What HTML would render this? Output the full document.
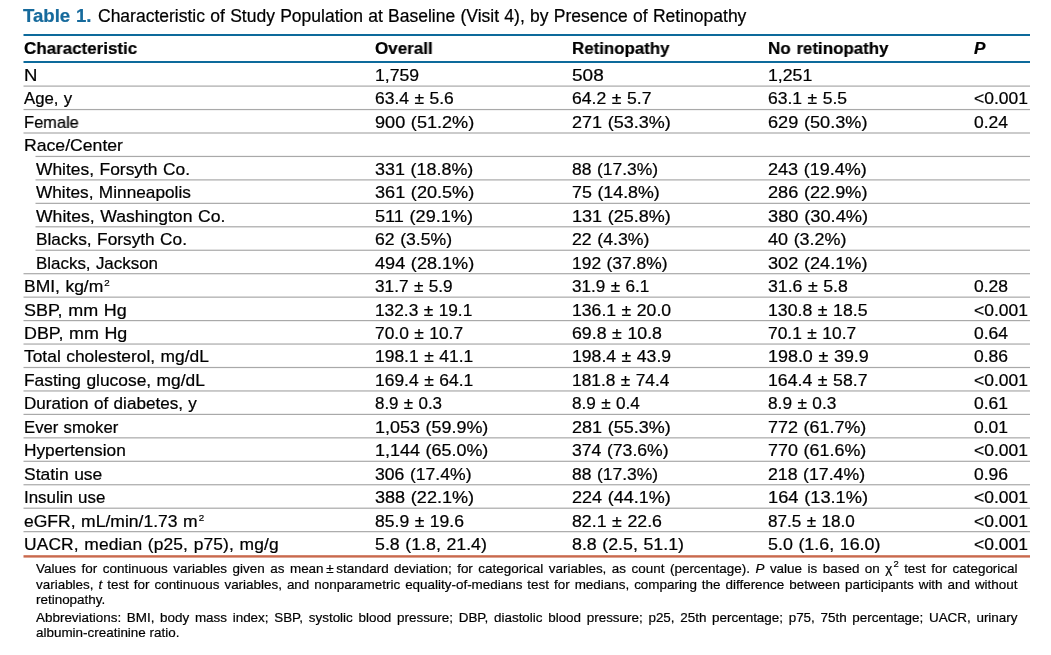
<!DOCTYPE html>
<html><head><meta charset="utf-8"><title>Table 1</title>
<style>
html,body{margin:0;padding:0;background:#fff;}
body{width:1051px;height:655px;position:relative;overflow:hidden;font-family:"Liberation Sans",sans-serif;color:#000;}
.t{position:absolute;white-space:nowrap;will-change:transform;-webkit-text-stroke-width:0.22px;font-size:16.6px;line-height:20.0px;word-spacing:0.6px;}
.t.r{transform:scaleX(1.054);transform-origin:0 0;}
.t.h,.tl{will-change:transform;}
.t.h{font-weight:bold;font-size:17.2px;word-spacing:1.2px;color:#000;}
.tb{color:#166a9c;font-weight:bold;}
sup{font-size:0.56em;vertical-align:0;position:relative;top:-0.66em;margin-left:1px;}
.ln{position:absolute;left:0;top:0;}
.fl{position:absolute;will-change:transform;-webkit-text-stroke-width:0.2px;left:36.3px;width:981.5px;font-size:13.45px;line-height:16.0px;white-space:nowrap;color:#000;}
.fl.j{text-align:justify;text-align-last:justify;white-space:nowrap;}
.fl sup{font-size:0.7em;top:-0.6em;}
</style></head><body>
<svg class="ln" width="1051" height="655" viewBox="0 0 1051 655"><rect x="23.5" y="34" width="1006.5" height="2" fill="#0d6a9b"/><rect x="23.5" y="61" width="1006.5" height="2" fill="#0d6a9b"/><rect x="23.5" y="85.50" width="1006.5" height="1.2" fill="#a9a9a9"/><rect x="23.5" y="108.95" width="1006.5" height="1.2" fill="#a9a9a9"/><rect x="23.5" y="132.40" width="1006.5" height="1.2" fill="#a9a9a9"/><rect x="35.5" y="155.85" width="994.5" height="1.2" fill="#a9a9a9"/><rect x="35.5" y="179.30" width="994.5" height="1.2" fill="#a9a9a9"/><rect x="35.5" y="202.75" width="994.5" height="1.2" fill="#a9a9a9"/><rect x="35.5" y="226.20" width="994.5" height="1.2" fill="#a9a9a9"/><rect x="35.5" y="249.65" width="994.5" height="1.2" fill="#a9a9a9"/><rect x="23.5" y="273.10" width="1006.5" height="1.2" fill="#a9a9a9"/><rect x="23.5" y="296.55" width="1006.5" height="1.2" fill="#a9a9a9"/><rect x="23.5" y="320.00" width="1006.5" height="1.2" fill="#a9a9a9"/><rect x="23.5" y="343.45" width="1006.5" height="1.2" fill="#a9a9a9"/><rect x="23.5" y="366.90" width="1006.5" height="1.2" fill="#a9a9a9"/><rect x="23.5" y="390.35" width="1006.5" height="1.2" fill="#a9a9a9"/><rect x="23.5" y="413.80" width="1006.5" height="1.2" fill="#a9a9a9"/><rect x="23.5" y="437.25" width="1006.5" height="1.2" fill="#a9a9a9"/><rect x="23.5" y="460.70" width="1006.5" height="1.2" fill="#a9a9a9"/><rect x="23.5" y="484.15" width="1006.5" height="1.2" fill="#a9a9a9"/><rect x="23.5" y="507.60" width="1006.5" height="1.2" fill="#a9a9a9"/><rect x="23.5" y="531.05" width="1006.5" height="1.2" fill="#a9a9a9"/><rect x="23.5" y="555.2" width="1006.5" height="2.4" fill="#c9694c"/></svg>
<div class="t " style="left:23.30px;top:6.00px;font-size:18.6px;"><b class="tb">Table 1.</b></div>
<div class="t " style="left:98.00px;top:6.00px;font-size:17.5px;word-spacing:0.43px;">Characteristic of Study Population at Baseline (Visit 4), by Presence of Retinopathy</div>
<div class="t h" style="left:23.50px;top:38.00px;transform:scaleX(0.9877);transform-origin:0 0;">Characteristic</div>
<div class="t h" style="left:374.60px;top:38.00px;transform:scaleX(0.9895);transform-origin:0 0;">Overall</div>
<div class="t h" style="left:572.00px;top:38.00px;transform:scaleX(0.9818);transform-origin:0 0;">Retinopathy</div>
<div class="t h" style="left:767.70px;top:38.00px;transform:scaleX(0.9830);transform-origin:0 0;">No retinopathy</div>
<div class="t h" style="left:973.60px;top:38.00px;transform:scaleX(1.0000);transform-origin:0 0;"><i>P</i></div>
<div class="t r" style="left:23.70px;top:66.00px;transform:scaleX(1.1193);">N</div>
<div class="t r" style="left:374.60px;top:66.00px;transform:scaleX(1.0613);">1,759</div>
<div class="t r" style="left:572.00px;top:66.00px;transform:scaleX(1.1449);">508</div>
<div class="t r" style="left:767.70px;top:66.00px;transform:scaleX(1.0662);">1,251</div>
<div class="t r" style="left:23.70px;top:89.00px;transform:scaleX(1.0100);">Age, y</div>
<div class="t r" style="left:374.60px;top:89.00px;transform:scaleX(1.0527);">63.4 ± 5.6</div>
<div class="t r" style="left:572.00px;top:89.00px;transform:scaleX(1.0608);">64.2 ± 5.7</div>
<div class="t r" style="left:767.70px;top:89.00px;transform:scaleX(1.0553);">63.1 ± 5.5</div>
<div class="t r" style="left:973.60px;top:89.00px;transform:scaleX(1.0540);">&lt;0.001</div>
<div class="t r" style="left:23.70px;top:113.00px;transform:scaleX(0.9907);">Female</div>
<div class="t r" style="left:374.60px;top:113.00px;transform:scaleX(1.0905);">900 (51.2%)</div>
<div class="t r" style="left:572.00px;top:113.00px;transform:scaleX(1.0862);">271 (53.3%)</div>
<div class="t r" style="left:767.70px;top:113.00px;transform:scaleX(1.0927);">629 (50.3%)</div>
<div class="t r" style="left:973.60px;top:113.00px;transform:scaleX(1.0540);">0.24</div>
<div class="t r" style="left:23.70px;top:136.00px;transform:scaleX(1.0626);">Race/Center</div>
<div class="t r" style="left:36.20px;top:160.00px;transform:scaleX(1.0492);">Whites, Forsyth Co.</div>
<div class="t r" style="left:374.60px;top:160.00px;transform:scaleX(1.0805);">331 (18.8%)</div>
<div class="t r" style="left:572.00px;top:160.00px;transform:scaleX(1.0540);">88 (17.3%)</div>
<div class="t r" style="left:767.70px;top:160.00px;transform:scaleX(1.0861);">243 (19.4%)</div>
<div class="t r" style="left:36.20px;top:183.00px;transform:scaleX(1.0385);">Whites, Minneapolis</div>
<div class="t r" style="left:374.60px;top:183.00px;transform:scaleX(1.0905);">361 (20.5%)</div>
<div class="t r" style="left:572.00px;top:183.00px;transform:scaleX(1.0738);">75 (14.8%)</div>
<div class="t r" style="left:767.70px;top:183.00px;transform:scaleX(1.0927);">286 (22.9%)</div>
<div class="t r" style="left:36.20px;top:207.00px;transform:scaleX(1.0602);">Whites, Washington Co.</div>
<div class="t r" style="left:374.60px;top:207.00px;transform:scaleX(1.0920);">511 (29.1%)</div>
<div class="t r" style="left:572.00px;top:207.00px;transform:scaleX(1.0862);">131 (25.8%)</div>
<div class="t r" style="left:767.70px;top:207.00px;transform:scaleX(1.1005);">380 (30.4%)</div>
<div class="t r" style="left:36.20px;top:230.00px;transform:scaleX(1.0408);">Blacks, Forsyth Co.</div>
<div class="t r" style="left:374.60px;top:230.00px;transform:scaleX(1.0623);">62 (3.5%)</div>
<div class="t r" style="left:572.00px;top:230.00px;transform:scaleX(1.0665);">22 (4.3%)</div>
<div class="t r" style="left:767.70px;top:230.00px;transform:scaleX(1.0830);">40 (3.2%)</div>
<div class="t r" style="left:36.20px;top:254.00px;transform:scaleX(1.0202);">Blacks, Jackson</div>
<div class="t r" style="left:374.60px;top:254.00px;transform:scaleX(1.0905);">494 (28.1%)</div>
<div class="t r" style="left:572.00px;top:254.00px;transform:scaleX(1.0507);">192 (37.8%)</div>
<div class="t r" style="left:767.70px;top:254.00px;transform:scaleX(1.0927);">302 (24.1%)</div>
<div class="t r" style="left:23.70px;top:277.00px;transform:scaleX(1.0528);">BMI, kg/m<sup>2</sup></div>
<div class="t r" style="left:374.60px;top:277.00px;transform:scaleX(1.0365);">31.7 ± 5.9</div>
<div class="t r" style="left:572.00px;top:277.00px;transform:scaleX(1.0324);">31.9 ± 6.1</div>
<div class="t r" style="left:767.70px;top:277.00px;transform:scaleX(1.0661);">31.6 ± 5.8</div>
<div class="t r" style="left:973.60px;top:277.00px;transform:scaleX(1.0540);">0.28</div>
<div class="t r" style="left:23.70px;top:301.00px;transform:scaleX(1.0816);">SBP, mm Hg</div>
<div class="t r" style="left:374.60px;top:301.00px;transform:scaleX(1.0422);">132.3 ± 19.1</div>
<div class="t r" style="left:572.00px;top:301.00px;transform:scaleX(1.0615);">136.1 ± 20.0</div>
<div class="t r" style="left:767.70px;top:301.00px;transform:scaleX(1.0658);">130.8 ± 18.5</div>
<div class="t r" style="left:973.60px;top:301.00px;transform:scaleX(1.0540);">&lt;0.001</div>
<div class="t r" style="left:23.70px;top:324.00px;transform:scaleX(1.0771);">DBP, mm Hg</div>
<div class="t r" style="left:374.60px;top:324.00px;transform:scaleX(1.0468);">70.0 ± 10.7</div>
<div class="t r" style="left:572.00px;top:324.00px;transform:scaleX(1.0696);">69.8 ± 10.8</div>
<div class="t r" style="left:767.70px;top:324.00px;transform:scaleX(1.0480);">70.1 ± 10.7</div>
<div class="t r" style="left:973.60px;top:324.00px;transform:scaleX(1.0540);">0.64</div>
<div class="t r" style="left:23.70px;top:347.00px;transform:scaleX(1.0483);">Total cholesterol, mg/dL</div>
<div class="t r" style="left:374.60px;top:347.00px;transform:scaleX(1.0519);">198.1 ± 41.1</div>
<div class="t r" style="left:572.00px;top:347.00px;transform:scaleX(1.0615);">198.4 ± 43.9</div>
<div class="t r" style="left:767.70px;top:347.00px;transform:scaleX(1.0797);">198.0 ± 39.9</div>
<div class="t r" style="left:973.60px;top:347.00px;transform:scaleX(1.0540);">0.86</div>
<div class="t r" style="left:23.70px;top:371.00px;transform:scaleX(1.0471);">Fasting glucose, mg/dL</div>
<div class="t r" style="left:374.60px;top:371.00px;transform:scaleX(1.0519);">169.4 ± 64.1</div>
<div class="t r" style="left:572.00px;top:371.00px;transform:scaleX(1.0432);">181.8 ± 74.4</div>
<div class="t r" style="left:767.70px;top:371.00px;transform:scaleX(1.0658);">164.4 ± 58.7</div>
<div class="t r" style="left:973.60px;top:371.00px;transform:scaleX(1.0540);">&lt;0.001</div>
<div class="t r" style="left:23.70px;top:394.00px;transform:scaleX(1.0302);">Duration of diabetes, y</div>
<div class="t r" style="left:374.60px;top:394.00px;transform:scaleX(1.0206);">8.9 ± 0.3</div>
<div class="t r" style="left:572.00px;top:394.00px;transform:scaleX(1.0341);">8.9 ± 0.4</div>
<div class="t r" style="left:767.70px;top:394.00px;transform:scaleX(1.0403);">8.9 ± 0.3</div>
<div class="t r" style="left:973.60px;top:394.00px;transform:scaleX(1.0540);">0.61</div>
<div class="t r" style="left:23.70px;top:418.00px;transform:scaleX(1.0062);">Ever smoker</div>
<div class="t r" style="left:374.60px;top:418.00px;transform:scaleX(1.0807);">1,053 (59.9%)</div>
<div class="t r" style="left:572.00px;top:418.00px;transform:scaleX(1.0862);">281 (55.3%)</div>
<div class="t r" style="left:767.70px;top:418.00px;transform:scaleX(1.0805);">772 (61.7%)</div>
<div class="t r" style="left:973.60px;top:418.00px;transform:scaleX(1.0540);">0.01</div>
<div class="t r" style="left:23.70px;top:441.00px;transform:scaleX(1.0406);">Hypertension</div>
<div class="t r" style="left:374.60px;top:441.00px;transform:scaleX(1.0807);">1,144 (65.0%)</div>
<div class="t r" style="left:572.00px;top:441.00px;transform:scaleX(1.0618);">374 (73.6%)</div>
<div class="t r" style="left:767.70px;top:441.00px;transform:scaleX(1.0805);">770 (61.6%)</div>
<div class="t r" style="left:973.60px;top:441.00px;transform:scaleX(1.0540);">&lt;0.001</div>
<div class="t r" style="left:23.70px;top:465.00px;transform:scaleX(1.0527);">Statin use</div>
<div class="t r" style="left:374.60px;top:465.00px;transform:scaleX(1.0606);">306 (17.4%)</div>
<div class="t r" style="left:572.00px;top:465.00px;transform:scaleX(1.0540);">88 (17.3%)</div>
<div class="t r" style="left:767.70px;top:465.00px;transform:scaleX(1.0662);">218 (17.4%)</div>
<div class="t r" style="left:973.60px;top:465.00px;transform:scaleX(1.0540);">0.96</div>
<div class="t r" style="left:23.70px;top:488.00px;transform:scaleX(1.0177);">Insulin use</div>
<div class="t r" style="left:374.60px;top:488.00px;transform:scaleX(1.0894);">388 (22.1%)</div>
<div class="t r" style="left:572.00px;top:488.00px;transform:scaleX(1.0862);">224 (44.1%)</div>
<div class="t r" style="left:767.70px;top:488.00px;transform:scaleX(1.0993);">164 (13.1%)</div>
<div class="t r" style="left:973.60px;top:488.00px;transform:scaleX(1.0540);">&lt;0.001</div>
<div class="t r" style="left:23.70px;top:512.00px;transform:scaleX(1.0558);">eGFR, mL/min/1.73 m<sup>2</sup></div>
<div class="t r" style="left:374.60px;top:512.00px;transform:scaleX(1.0576);">85.9 ± 19.6</div>
<div class="t r" style="left:572.00px;top:512.00px;transform:scaleX(1.0696);">82.1 ± 22.6</div>
<div class="t r" style="left:767.70px;top:512.00px;transform:scaleX(1.0325);">87.5 ± 18.0</div>
<div class="t r" style="left:973.60px;top:512.00px;transform:scaleX(1.0540);">&lt;0.001</div>
<div class="t r" style="left:23.70px;top:535.00px;letter-spacing:0.12px;transform:scaleX(1.0486);">UACR, median (p25, p75), mg/g</div>
<div class="t r" style="left:374.60px;top:535.00px;transform:scaleX(1.0704);">5.8 (1.8, 21.4)</div>
<div class="t r" style="left:572.00px;top:535.00px;transform:scaleX(1.0714);">8.8 (2.5, 51.1)</div>
<div class="t r" style="left:767.70px;top:535.00px;transform:scaleX(1.0752);">5.0 (1.6, 16.0)</div>
<div class="t r" style="left:973.60px;top:535.00px;transform:scaleX(1.0540);">&lt;0.001</div>
<div class="fl j" style="top:561.00px;letter-spacing:0px">Values for continuous variables given as mean&#8201;±&#8201;standard deviation; for categorical variables, as count (percentage). <i>P</i> value is based on &#967;<sup>2</sup> test for categorical</div>
<div class="fl j" style="top:577.00px;letter-spacing:0px">variables, <i>t</i> test for continuous variables, and nonparametric equality-of-medians test for medians, comparing the difference between participants with and without</div>
<div class="fl" style="top:592.00px;letter-spacing:0px">retinopathy.</div>
<div class="fl j" style="top:610.00px;letter-spacing:0px">Abbreviations: BMI, body mass index; SBP, systolic blood pressure; DBP, diastolic blood pressure; p25, 25th percentage; p75, 75th percentage; UACR, urinary</div>
<div class="fl" style="top:625.00px;letter-spacing:0px">albumin-creatinine ratio.</div>
</body></html>
